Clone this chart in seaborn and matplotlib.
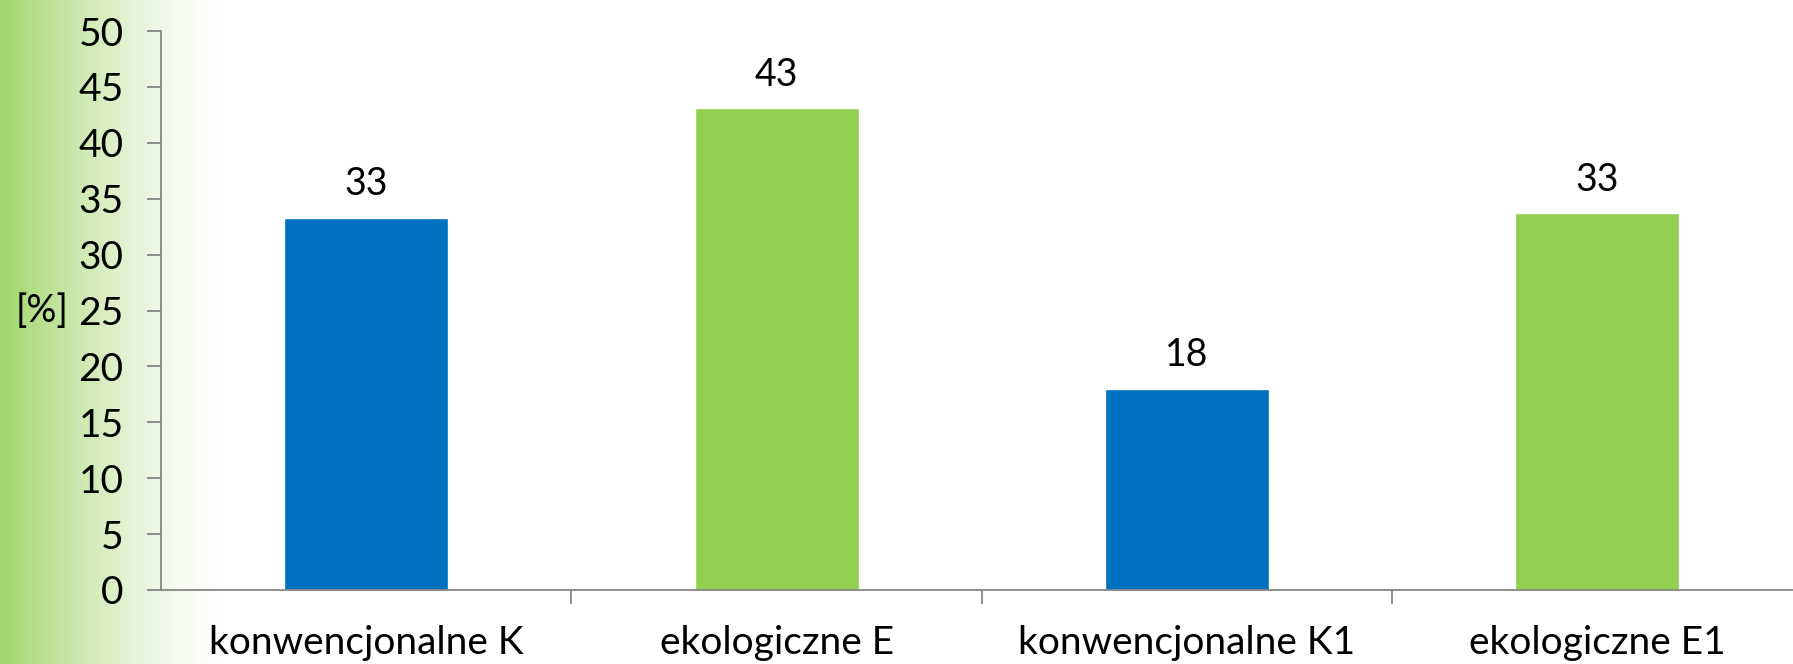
import numpy as np
import pandas as pd
import matplotlib
matplotlib.use('Agg')
import matplotlib.pyplot as plt
import seaborn as sns

categories = ['konwencjonalne K', 'ekologiczne E', 'konwencjonalne K1', 'ekologiczne E1']
values = [33.3, 43.1, 18.0, 33.7]
value_labels = ['33', '43', '18', '33']
bar_colors = ['#0070C0', '#92D050', '#0070C0', '#92D050']

df = pd.DataFrame({'cat': categories, 'val': values})

sns.set_style('white')
plt.rcParams['font.family'] = ['Lato', 'DejaVu Sans']
plt.rcParams['text.color'] = 'black'

W, H = 1793, 664
fig = plt.figure(figsize=(W / 100, H / 100), dpi=100)

# green gradient strip on the left
bg = fig.add_axes([0, 0, 1, 1], zorder=-1)
xs = np.arange(W)
fade = np.clip(1 - (xs - 6) / 215.0, 0, 1) ** 1.4
green = np.array([165, 215, 112]) / 255.0
row = 1 - fade[:, None] * (1 - green[None, :])
img = np.repeat(row[None, :, :], 2, axis=0)
bg.imshow(img, aspect='auto', extent=[0, 1, 0, 1])
bg.axis('off')

ax = fig.add_axes([161.2 / W, 74 / H, 1641 / W, 559 / H])
ax.set_facecolor('none')
sns.barplot(data=df, x='cat', y='val', hue='cat', palette=bar_colors,
            dodge=False, width=0.4, legend=False, ax=ax, saturation=1)

for cont, lab in zip(ax.containers, value_labels):
    ax.bar_label(cont, labels=[lab], padding=11, fontsize=27, color='black')

ax.set_ylim(0, 50)
ax.set_yticks(np.arange(0, 51, 5))
ax.set_xlim(-0.5, 3.5)
ax.set_xlabel('')
ax.set_ylabel('')
fig.text(42 / W, 1 - 311 / H, '[%]', fontsize=27, ha='center', va='center')

sns.despine(ax=ax, top=True, right=True)
for s in ['left', 'bottom']:
    ax.spines[s].set_color('#868686')
    ax.spines[s].set_linewidth(1.3)

ax.tick_params(axis='y', left=True, length=10, width=1.3, color='#868686',
               labelsize=28, labelcolor='black', pad=17)
ax.tick_params(axis='x', which='major', bottom=False, length=0,
               labelsize=28, labelcolor='black', pad=25)
ax.set_xticks([0.5, 1.5, 2.5], minor=True)
ax.tick_params(axis='x', which='minor', bottom=True, length=10, width=1.3,
               color='#868686')

fig.savefig('out.png', dpi=100)
